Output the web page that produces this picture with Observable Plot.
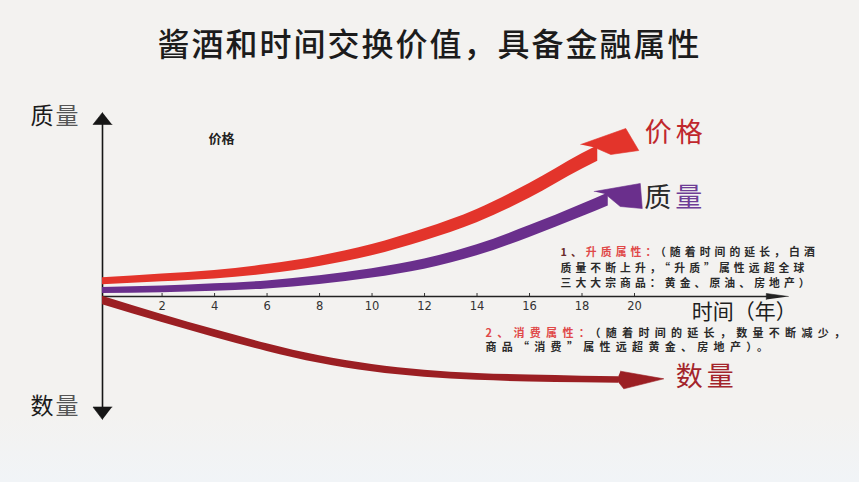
<!DOCTYPE html>
<html><head><meta charset="utf-8">
<script src="https://cdn.jsdelivr.net/npm/d3@7"></script>
<script src="https://cdn.jsdelivr.net/npm/@observablehq/plot@0.6"></script>
<style>
html,body{margin:0;padding:0;}
body{width:859px;height:482px;overflow:hidden;background:linear-gradient(#f3f2f0 0%,#f3f2f0 86%,#f1f4f7 100%);font-family:"Noto Sans CJK SC",sans-serif;}
#title{height:80px;line-height:84px;text-align:center;font-size:32px;font-weight:500;letter-spacing:2px;color:#1c1c1c;}
#chart svg{display:block;}
</style></head><body>
<div id="title">酱酒和时间交换价值，具备金融属性</div>
<div id="chart"></div>
<script>
// ---- data ----
const x0 = -0.27;           // origin of the axes
const xEnd = 25.86;         // end of the time axis (arrow tip)
const ticks = [2, 4, 6, 8, 10, 12, 14, 16, 18, 20];
const tickLabels = ["2", "4", "6", "8", "10", "12", "14", "16", "18", "20"];

const priceYears  = [-0.27, 2, 4, 6, 8, 10, 12, 14, 16, 18, 18.6];
const priceValues = [7.6, 9.3, 10.9, 13.6, 17.6, 23.2, 30.8, 40.2, 52.8, 67.5, 71.5];

const qualityYears  = [-0.27, 2, 4, 6, 8, 10, 12, 14, 16, 18, 19.0];
const qualityValues = [3.0, 3.6, 4.5, 5.8, 8.2, 11.6, 16.2, 23.1, 32.5, 43, 48.5];

const quantityYears  = [-0.27, 2, 4, 6, 8, 10, 12, 14, 16, 18, 19.4];
const quantityValues = [-2, -11, -18.5, -25.5, -31.5, -35.8, -38.6, -40.2, -41, -41.5, -41.7];

const seriesNames = ["价格", "质量", "数量"];
const axisTop = "质量", axisBottom = "数量", axisTime = "时间（年）";
const smallLabel = "价格";
const block1 = ["1、升质属性：（随着时间的延长，白酒", "质量不断上升，“升质”属性远超全球", "三大大宗商品：黄金、原油、房地产）"];
const block2 = ["2、消费属性：（随着时间的延长，数量不断减少，", "商品“消费”属性远超黄金、房地产）。"];

// ---- layout / style ----
const xDomain = [x0, 20], xRange = [102, 634];
const yDomain = [0, 100], yRange = [216, 16];
const kx = (xRange[1] - xRange[0]) / (xDomain[1] - xDomain[0]);
const ky = (yRange[0] - yRange[1]) / (yDomain[1] - yDomain[0]);
const yTop = 92, yBottom = -61.5;
const C = {price: "#e3342b", quality: "#6a2f8c", quantity: "#9b1f23", axis: "#161616"};

function band(xs, ys, w0, w1) {
  const n = xs.length;
  return xs.map((x, i) => {
    const a = Math.max(0, i - 1), b = Math.min(n - 1, i + 1);
    const s = ((ys[b] - ys[a]) * ky) / ((xs[b] - xs[a]) * kx);
    const t = (x - xs[0]) / (xs[n - 1] - xs[0]);
    const hw = (w0 + (w1 - w0) * t) / 2 * Math.sqrt(1 + s * s) / ky;
    return {x, y1: ys[i] - hw, y2: ys[i] + hw};
  });
}
function poly(ax, ay, offsets) {
  return offsets.map(([dx, dy]) => ({x: ax + dx / kx, y: ay - dy / ky}));
}
const last = a => a[a.length - 1];
const pEnd = {x: last(priceYears), y: last(priceValues)};
const qEnd = {x: last(qualityYears), y: last(qualityValues)};
const nEnd = {x: last(quantityYears), y: last(quantityValues)};

const headPrice = poly(pEnd.x, pEnd.y, [[-17, -9], [28, -25], [41, -3], [13, 1], [-3, -6]]);
const headQuality = poly(qEnd.x, qEnd.y, [[-14, -8], [32, -16], [34, 9], [12, 7], [-3, -5.5]]);
const headQuantity = poly(nEnd.x, nEnd.y, [[1.7, -8.7], [45, -1.1], [5, 8.9], [-2, 0]]);
const headTop = poly(x0, yTop, [[0, 0], [-9.5, 12], [9.5, 12]]);
const headBottom = poly(x0, yBottom, [[0, 0], [-9.5, -12.5], [9.5, -12.5]]);
const headRight = poly(xEnd, 0, [[0, 0], [-22, -3], [-22, 3]]);

const F = "'Noto Sans CJK SC', sans-serif";
const filled = (pts, color) => Plot.line(pts, {x: "x", y: "y", fill: color, stroke: color, strokeWidth: 0.6});

const plot = Plot.plot({
  width: 859, height: 402,
  marginTop: 0, marginBottom: 0, marginLeft: 0, marginRight: 0,
  x: {domain: xDomain, range: xRange, axis: null},
  y: {domain: yDomain, range: yRange, axis: null},
  style: {background: "transparent", fontFamily: F},
  marks: [
    // axes
    Plot.ruleX([x0], {y1: yBottom + 3, y2: yTop - 3, stroke: C.axis, strokeWidth: 1.6}),
    filled(headTop, C.axis), filled(headBottom, C.axis),
    Plot.ruleY([0], {x1: x0, x2: xEnd - 0.4, stroke: "#222", strokeWidth: 1.3}),
    filled(headRight, "#222"),
    Plot.ruleX(ticks, {x: d => d, y1: 0, y2: 1.5, stroke: "#333", strokeWidth: 1}),
    Plot.text(ticks, {x: d => d, y: 0, dy: 10, text: (d, i) => tickLabels[i], fontSize: 11.5, fill: "#333", fontFamily: "'DejaVu Sans', sans-serif", textAnchor: "middle"}),
    // curves
    Plot.areaY(band(priceYears, priceValues, 7, 14), {x: "x", y1: "y1", y2: "y2", fill: C.price, curve: "monotone-x"}),
    filled(headPrice, C.price),
    Plot.areaY(band(qualityYears, qualityValues, 6, 12), {x: "x", y1: "y1", y2: "y2", fill: C.quality, curve: "monotone-x"}),
    filled(headQuality, C.quality),
    Plot.areaY(band(quantityYears, quantityValues, 8, 6.5), {x: "x", y1: "y1", y2: "y2", fill: C.quantity, curve: "monotone-x"}),
    filled(headQuantity, C.quantity),
    // labels
    Plot.text([pEnd], {x: "x", y: "y", dx: 78, dy: -20, text: () => seriesNames[0], fontSize: 27, fill: "#c0272d", ariaDescription: "big"}),
    Plot.text([qEnd], {x: "x", y: "y", dx: 67, dy: -1, text: () => seriesNames[1], fontSize: 27, fill: "#6e3d96", ariaDescription: "big"}),
    Plot.text([nEnd], {x: "x", y: "y", dx: 88, dy: -3, text: () => seriesNames[2], fontSize: 27, fill: "#a3242b", ariaDescription: "big"}),
    Plot.text([{x: x0, y: yTop}], {x: "x", y: "y", dx: -47, dy: 4, text: () => axisTop, fontSize: 23, fill: "#1a1a1a", ariaDescription: "side"}),
    Plot.text([{x: x0, y: yBottom}], {x: "x", y: "y", dx: -47, dy: -13, text: () => axisBottom, fontSize: 23, fill: "#1a1a1a", ariaDescription: "side"}),
    Plot.text([{x: xEnd, y: 0}], {x: "x", y: "y", dx: -44, dy: 16, text: () => axisTime, fontSize: 21, fill: "#1e1e1e"}),
    Plot.text([{x: 4.26, y: 79}], {x: "x", y: "y", text: () => smallLabel, fontSize: 13, fontWeight: "bold", fill: "#222"}),
    Plot.text(block1, {x: 17.18, y: (d, i) => 22 - i * 7.8, text: d => d, textAnchor: "start", fontSize: 10.8, fontWeight: "bold", fill: "#2a2a2a", ariaDescription: "block1"}),
    Plot.text(block2, {x: 14.32, y: (d, i) => -18.5 - i * 7.2, text: d => d, textAnchor: "start", fontSize: 11, fontWeight: "bold", fill: "#2a2a2a", ariaDescription: "block2"})
  ]
});
document.getElementById("chart").appendChild(plot);

// ---- post styling: letter spacing and two-colour labels ----
const svg = d3.select(plot);
svg.selectAll('g[aria-description="block1"] text').style("letter-spacing", "4.1px");
svg.selectAll('g[aria-description="block2"] text').style("letter-spacing", "5.3px");
svg.selectAll('g[aria-description="big"] text').style("letter-spacing", "4px");
svg.selectAll('g[aria-description="side"] text').style("letter-spacing", "2px");
function colorize(sel, full, parts) {
  sel.filter(function () { return this.textContent === full; }).each(function () {
    const t = d3.select(this);
    t.text(null);
    parts.forEach(([s, c]) => t.append("tspan").attr("fill", c).text(s));
  });
}
colorize(svg.selectAll('g[aria-description="block1"] text'), block1[0], [["1、", "#6a2a2a"], ["升质属性：", "#e04848"], [block1[0].slice(7), "#2a2a2a"]]);
colorize(svg.selectAll('g[aria-description="block2"] text'), block2[0], [["2、消费属性：", "#e04848"], [block2[0].slice(7), "#2a2a2a"]]);
colorize(svg.selectAll('g[aria-description="big"] text'), seriesNames[1], [["质", "#2a2a2a"], ["量", "#6e3d96"]]);
colorize(svg.selectAll('g[aria-description="side"] text'), axisTop, [["质", "#1a1a1a"], ["量", "#555"]]);
colorize(svg.selectAll('g[aria-description="side"] text'), axisBottom, [["数", "#1a1a1a"], ["量", "#555"]]);
</script>
</body></html>
